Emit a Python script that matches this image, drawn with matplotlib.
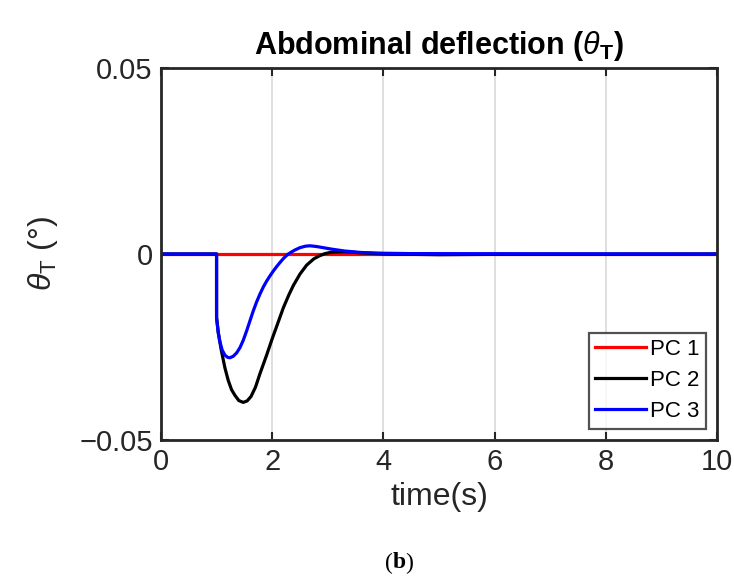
import matplotlib
matplotlib.use("Agg")
import matplotlib.pyplot as plt

plt.rcParams['font.family'] = ['Liberation Sans', 'DejaVu Sans']
plt.rcParams['mathtext.fontset'] = 'custom'
plt.rcParams['mathtext.rm'] = 'Liberation Sans'
plt.rcParams['mathtext.it'] = 'Liberation Sans:italic'
plt.rcParams['mathtext.bf'] = 'Liberation Sans:bold'

# ---- data ----
t_pc1 = [0, 10]
v_pc1 = [0, 0]

t_pc2 = [0, 1.0, 1.0, 1.03, 1.08, 1.15, 1.21, 1.27, 1.33, 1.4, 1.48, 1.55, 1.62, 1.7,
         1.78, 1.9, 2.0, 2.08, 2.2, 2.3, 2.38, 2.5, 2.62, 2.75, 2.85, 2.95, 3.07,
         3.3, 3.6, 4.0, 5.0, 6.0, 10]
v_pc2 = [0, 0, -0.0171, -0.021, -0.0255, -0.0306, -0.034, -0.0365, -0.038, -0.0394,
         -0.0399, -0.0395, -0.0383, -0.0358, -0.0322, -0.0272, -0.0228, -0.0195,
         -0.0145, -0.0110, -0.0085, -0.0054, -0.0030, -0.0013, -0.0005, 0.0001, 0.0005,
         0.0006, 0.0003, 0.0, -0.0002, -0.0001, 0]

t_pc3 = [0, 1.0, 1.0, 1.03, 1.06, 1.1, 1.15, 1.2, 1.24, 1.3, 1.36, 1.42, 1.48, 1.54,
         1.6, 1.66, 1.72, 1.78, 1.84, 1.9, 1.96, 2.02, 2.08, 2.14, 2.21, 2.29, 2.4,
         2.5, 2.6, 2.68, 2.8, 3.07, 3.3, 3.6, 4.0, 4.5, 10]
v_pc3 = [0, 0, -0.0171, -0.0212, -0.0236, -0.0258, -0.0272, -0.0278, -0.0279,
         -0.0275, -0.0266, -0.0252, -0.0232, -0.0207, -0.0180, -0.0153, -0.0129,
         -0.0108, -0.0089, -0.0073, -0.0059, -0.0046, -0.0034, -0.0023, -0.0011,
         0.0, 0.0010, 0.0017, 0.0021, 0.0022, 0.0020, 0.0013, 0.0008, 0.0004,
         0.0002, 0.0001, 0]

series_labels = ['PC 1', 'PC 2', 'PC 3']
series_colors = ['#ff0000', '#000000', '#0000ff']
x_ticks = [0, 2, 4, 6, 8, 10]
x_ticklabels = ['0', '2', '4', '6', '8', '10']
y_ticks = [-0.05, 0, 0.05]
y_ticklabels = ['\u22120.05', '0', '0.05']

fig = plt.figure(figsize=(7.34, 5.78), dpi=100)
ax = fig.add_axes([0.2193, 0.2388, 0.7575, 0.6436])

ax.plot(t_pc1, v_pc1, color=series_colors[0], lw=2.3, label=series_labels[0])
ax.plot(t_pc2, v_pc2, color=series_colors[1], lw=2.3, label=series_labels[1])
ax.plot(t_pc3, v_pc3, color=series_colors[2], lw=2.3, label=series_labels[2])

ax.set_xlim(0, 10)
ax.set_ylim(-0.05, 0.05)
ax.set_xticks(x_ticks)
ax.set_xticklabels(x_ticklabels)
ax.set_yticks(y_ticks)
ax.set_yticklabels(y_ticklabels)

ax.grid(True, color='#dcdcdc', lw=1.3)
ax.set_axisbelow(True)
ax.tick_params(direction='in', length=6, width=1.5, colors='#262626',
               labelsize=21, top=True, right=True, pad=6)
for s in ax.spines.values():
    s.set_color('#262626')
    s.set_linewidth(2.0)

ax.set_title(r'Abdominal deflection ($\theta_{\mathbf{T}}$)', fontsize=22,
             fontweight='bold', pad=10)
ax.set_xlabel('time(s)', fontsize=23, color='#262626', labelpad=4)
ax.set_ylabel(r'$\theta_{\mathrm{T}}$ (°)', fontsize=23, color='#262626', labelpad=14)

leg = ax.legend(loc='lower right', fontsize=16, frameon=True, fancybox=False,
                edgecolor='#262626', handlelength=2.3, handletextpad=0.15,
                borderpad=0.3, labelspacing=0.45, borderaxespad=0.5)
leg.get_frame().set_linewidth(1.6)

# caption "(b)" with bold b
cx, cy = 399 / 734, 1 - 563 / 578
fig.text(cx, cy, 'b', ha='center', va='center', fontsize=17,
         fontweight='bold', family='Liberation Serif')
fig.text(cx - 6 / 734, cy, '(', ha='right', va='center', fontsize=17,
         family='Liberation Serif')
fig.text(cx + 6 / 734, cy, ')', ha='left', va='center', fontsize=17,
         family='Liberation Serif')

fig.savefig('out.png', dpi=100)
